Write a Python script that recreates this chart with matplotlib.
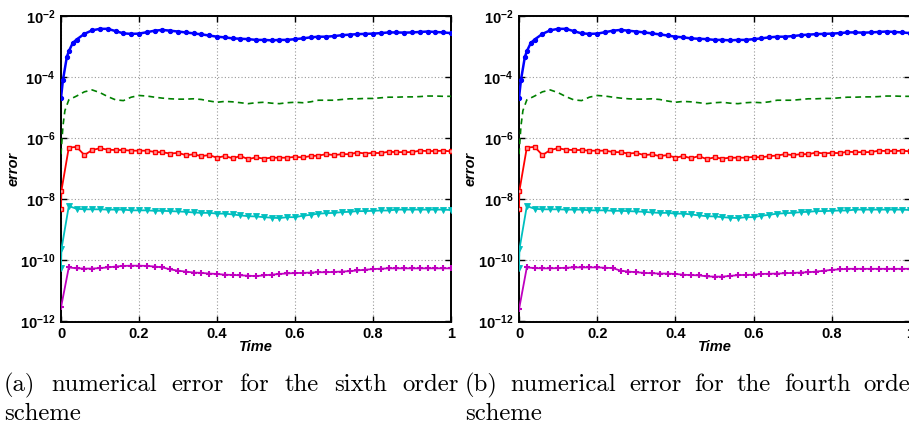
import numpy as np
import matplotlib
matplotlib.use("Agg")
import matplotlib.pyplot as plt
from matplotlib.ticker import FixedLocator, NullLocator, FuncFormatter

plt.rcParams.update({
    "font.family": "Liberation Sans",
    "font.weight": "bold",
    "mathtext.fontset": "custom",
    "mathtext.rm": "Liberation Sans:bold",
    "mathtext.it": "Liberation Sans:bold:italic",
    "mathtext.bf": "Liberation Sans:bold",
    "mathtext.default": "rm",
})

# ---------------------------------------------------------------- data
# common output times (every 0.02 up to t = 1)
t_grid = list(np.round(np.linspace(0.02, 1.0, 50), 2))

# first series (blue, dots): finer output at the start
t_blue = [0.0, 0.005, 0.015, 0.02, 0.03, 0.04] + t_grid[2:]
err_blue = [2.1e-5, 8e-5, 4.6e-4, 7e-4, 1.3e-3, 1.7e-3,
            2.6e-3, 3.4e-3, 3.8e-3, 3.8e-3, 3.2e-3, 2.7e-3, 2.6e-3, 2.65e-3, 2.95e-3, 3.3e-3,
            3.5e-3, 3.3e-3, 3.1e-3, 2.9e-3, 2.7e-3, 2.5e-3, 2.3e-3, 2.1e-3, 2.0e-3, 1.85e-3,
            1.8e-3, 1.75e-3, 1.65e-3, 1.65e-3, 1.6e-3, 1.65e-3, 1.65e-3, 1.75e-3, 1.85e-3, 2.0e-3,
            2.1e-3, 2.1e-3, 2.2e-3, 2.35e-3, 2.45e-3, 2.55e-3, 2.6e-3, 2.65e-3, 2.75e-3, 2.9e-3,
            2.9e-3, 2.85e-3, 2.9e-3, 3.0e-3, 3.1e-3, 3.0e-3, 2.9e-3, 2.75e-3]

# second series (green, dashed)
t_green = [0.0, 0.005, 0.01] + t_grid
err_green = [3e-7, 2.5e-6, 8e-6,
             1.8e-5, 2.4e-5, 3.3e-5, 3.8e-5, 3.1e-5, 2.3e-5, 1.8e-5, 1.7e-5, 2.2e-5, 2.5e-5,
             2.4e-5, 2.2e-5, 2.05e-5, 1.95e-5, 1.9e-5, 1.9e-5, 1.95e-5, 1.85e-5, 1.65e-5, 1.5e-5,
             1.6e-5, 1.55e-5, 1.45e-5, 1.35e-5, 1.45e-5, 1.5e-5, 1.4e-5, 1.35e-5, 1.45e-5, 1.5e-5,
             1.45e-5, 1.55e-5, 1.75e-5, 1.75e-5, 1.75e-5, 1.85e-5, 1.95e-5, 1.95e-5, 2.0e-5, 2.0e-5,
             2.1e-5, 2.2e-5, 2.2e-5, 2.25e-5, 2.25e-5, 2.3e-5, 2.4e-5, 2.4e-5, 2.35e-5, 2.35e-5]

# third series (red, squares)
t_red = [0.0, 0.001] + t_grid
err_red = [4.9e-9, 1.9e-8,
           4.9e-7, 5.2e-7, 2.8e-7, 4.1e-7, 4.7e-7, 4.2e-7, 4.1e-7, 4.1e-7, 3.9e-7, 3.9e-7,
           3.9e-7, 3.55e-7, 3.45e-7, 3.15e-7, 3.3e-7, 2.8e-7, 2.95e-7, 2.6e-7, 2.8e-7, 2.3e-7,
           2.6e-7, 2.2e-7, 2.6e-7, 2.07e-7, 2.35e-7, 2.15e-7, 2.3e-7, 2.3e-7, 2.3e-7, 2.45e-7,
           2.35e-7, 2.6e-7, 2.7e-7, 3.0e-7, 2.8e-7, 3.0e-7, 3.0e-7, 3.4e-7, 3.15e-7, 3.3e-7,
           3.25e-7, 3.6e-7, 3.5e-7, 3.5e-7, 3.5e-7, 3.9e-7, 3.8e-7, 3.8e-7, 3.9e-7, 3.7e-7]

# fourth series (cyan, triangles)
t_cyan = [0.0, 0.001] + t_grid
err_cyan = [5.8e-11, 2.3e-10,
            6.0e-9, 4.9e-9, 4.7e-9, 4.7e-9, 4.7e-9, 4.6e-9, 4.6e-9, 4.6e-9, 4.35e-9, 4.35e-9,
            4.35e-9, 4.2e-9, 4.2e-9, 4.1e-9, 4.0e-9, 3.9e-9, 3.7e-9, 3.6e-9, 3.6e-9, 3.4e-9,
            3.4e-9, 3.2e-9, 2.97e-9, 2.8e-9, 2.75e-9, 2.6e-9, 2.5e-9, 2.43e-9, 2.6e-9, 2.6e-9,
            2.9e-9, 3.1e-9, 3.4e-9, 3.5e-9, 3.6e-9, 3.8e-9, 3.9e-9, 4.1e-9, 4.1e-9, 4.2e-9,
            4.3e-9, 4.3e-9, 4.6e-9, 4.6e-9, 4.6e-9, 4.6e-9, 4.6e-9, 4.6e-9, 4.6e-9, 4.45e-9]

# fifth series (magenta, crosses) -- differs between the two schemes
t_mag = [0.0] + t_grid
err_mag_6 = [2.9e-12,
             5.9e-11, 5.5e-11, 5.4e-11, 5.4e-11, 5.6e-11, 5.9e-11, 6.3e-11, 6.6e-11, 6.7e-11, 6.7e-11,
             6.6e-11, 6.3e-11, 5.9e-11, 5.1e-11, 4.6e-11, 4.3e-11, 4.0e-11, 3.9e-11, 3.7e-11, 3.6e-11,
             3.4e-11, 3.35e-11, 3.25e-11, 3.15e-11, 3.05e-11, 3.25e-11, 3.4e-11, 3.6e-11, 3.75e-11, 3.85e-11,
             3.9e-11, 4.0e-11, 4.1e-11, 4.1e-11, 4.2e-11, 4.3e-11, 4.45e-11, 4.7e-11, 4.95e-11, 5.2e-11,
             5.35e-11, 5.5e-11, 5.5e-11, 5.5e-11, 5.5e-11, 5.5e-11, 5.5e-11, 5.5e-11, 5.5e-11, 5.5e-11]
err_mag_4 = [2.5e-12,
             5.9e-11, 5.6e-11, 5.5e-11, 5.5e-11, 5.6e-11, 5.75e-11, 5.9e-11, 5.9e-11, 5.9e-11, 5.9e-11,
             5.75e-11, 5.6e-11, 4.6e-11, 4.3e-11, 4.1e-11, 3.9e-11, 3.8e-11, 3.7e-11, 3.7e-11, 3.6e-11,
             3.4e-11, 3.3e-11, 3.25e-11, 3.0e-11, 2.95e-11, 2.95e-11, 3.1e-11, 3.3e-11, 3.35e-11, 3.4e-11,
             3.6e-11, 3.65e-11, 3.7e-11, 3.8e-11, 3.9e-11, 4.0e-11, 4.1e-11, 4.3e-11, 4.6e-11, 4.9e-11,
             5.1e-11, 5.3e-11, 5.3e-11, 5.3e-11, 5.3e-11, 5.3e-11, 5.3e-11, 5.3e-11, 5.3e-11, 5.3e-11]

x_ticks = [0, 0.2, 0.4, 0.6, 0.8, 1]
x_ticklabels = ["0", "0.2", "0.4", "0.6", "0.8", "1"]
y_ticks = [1e-12, 1e-10, 1e-8, 1e-6, 1e-4, 1e-2]

captions = [
    (["(a)", "numerical", "error", "for", "the", "sixth", "order"], "scheme"),
    (["(b)", "numerical", "error", "for", "the", "fourth", "order"], "scheme"),
]

# ---------------------------------------------------------------- figure
W, H = 909, 424
fig = plt.figure(figsize=(W / 100, H / 100), dpi=100)

ax_bottom, ax_top = 321.5, 16.0
panels = [(61.0, 390.0, err_mag_6), (519.0, 391.0, err_mag_4)]

def log_label(v, pos):
    return r"$10^{%d}$" % int(round(np.log10(v)))

for left, width, err_mag in panels:
    ax = fig.add_axes([left / W, 1 - ax_bottom / H, width / W, (ax_bottom - ax_top) / H])
    ax.set_yscale("log")

    ax.plot(t_blue, err_blue, "-o", color=(0, 0, 1), lw=1.8, ms=3.0, mew=0.8, zorder=5)
    ax.plot(t_green, err_green, "--", color=(0, 0.5, 0), lw=1.2, dashes=(3.5, 2.5), zorder=4)
    ax.plot(t_red, err_red, "-s", color=(1, 0, 0), lw=1.3, ms=3.4, mfc=(1, 0.6, 0.6),
            mew=1.0, zorder=4)
    ax.plot(t_cyan, err_cyan, "-v", color=(0, 0.75, 0.75), lw=1.3, ms=4.3, mew=0.6, zorder=4)
    ax.plot(t_mag, err_mag, "-+", color=(0.75, 0, 0.75), lw=1.3, ms=4.2, mew=1.5, zorder=4)

    ax.set_xlim(0, 1)
    ax.set_ylim(1e-12, 1e-2)
    ax.xaxis.set_major_locator(FixedLocator(x_ticks))
    ax.set_xticklabels(x_ticklabels)
    ax.yaxis.set_major_locator(FixedLocator(y_ticks))
    ax.yaxis.set_minor_locator(NullLocator())
    ax.yaxis.set_major_formatter(FuncFormatter(log_label))

    ax.grid(True, which="major", color=(0.6, 0.6, 0.6), ls=(0, (1, 2)), lw=0.8)
    ax.tick_params(direction="in", length=4, width=1.0, top=True, right=True,
                   labelsize=10.5, pad=4)
    for s in ax.spines.values():
        s.set_linewidth(1.4)

    ax.set_xlabel("Time", fontsize=10.5, fontweight="bold", fontstyle="italic")
    ax.xaxis.set_label_coords(0.5, -0.062)
    ax.set_ylabel("error", fontsize=10.5, fontweight="bold", fontstyle="italic")
    ax.yaxis.set_label_coords(-0.105, 0.5)

# ---------------------------------------------------------------- captions
cap_size = 17.8
line1_y, line2_y = 391.0, 419.5
cap_starts = [4.0, 465.0]
cap_width = 455.0

fig.canvas.draw()
renderer = fig.canvas.get_renderer()
for (words, second), x0 in zip(captions, cap_starts):
    texts = [fig.text(0, 1 - line1_y / H, w, fontsize=cap_size, family="cmr10",
                      fontweight="normal", va="baseline", ha="left") for w in words]
    widths = [t.get_window_extent(renderer).width for t in texts]
    gap = (cap_width - sum(widths)) / (len(words) - 1)
    x = x0
    for t, w in zip(texts, widths):
        t.set_x(x / W)
        x += w + gap
    fig.text(x0 / W, 1 - line2_y / H, second, fontsize=cap_size, family="cmr10",
             fontweight="normal", va="baseline", ha="left")

fig.savefig("out.png", dpi=100, facecolor="white")
